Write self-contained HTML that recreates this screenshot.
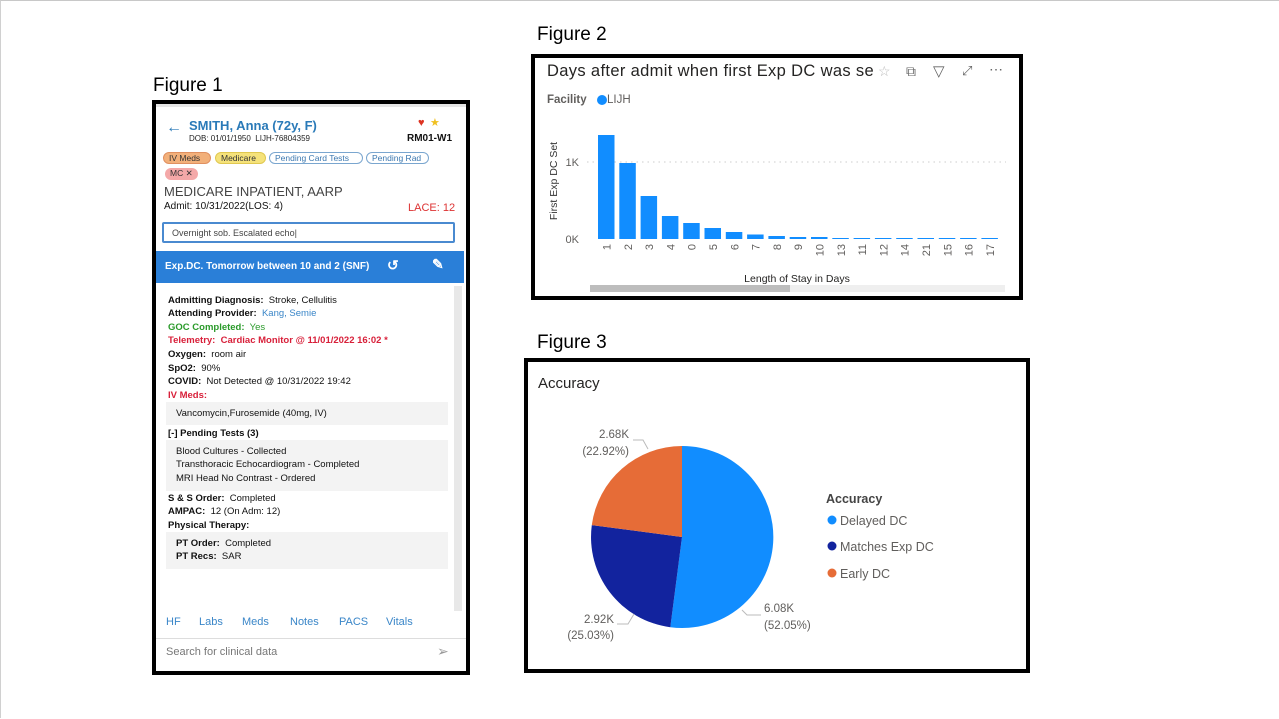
<!DOCTYPE html>
<html><head><meta charset="utf-8"><style>
*{margin:0;padding:0;box-sizing:border-box}
body{width:1279px;height:718px;background:#fff;position:relative;overflow:hidden;font-family:"Liberation Sans",sans-serif;border-top:1px solid #c8c8c8;border-left:1px solid #d0d0d0}
.a{position:absolute;white-space:nowrap}
.fig{font-size:19px;color:#000}
.ph{font-size:9.5px;color:#111;line-height:12px}
.b{font-weight:bold}
.pill{position:absolute;height:12px;border-radius:6px;font-size:8.5px;line-height:11px;padding:0 5px;color:#333}
.out{border:1px solid #7aa6cf;color:#3c78b0;background:#fff}
.gbox{position:absolute;background:#f3f3f3;left:165px;width:282px}
.tab{font-size:11px;color:#3a86c8}
</style></head><body>
<div class="a fig" style="left:152px;top:74px">Figure 1</div>
<div class="a fig" style="left:536px;top:23px">Figure 2</div>
<div class="a fig" style="left:536px;top:331px">Figure 3</div>

<!-- Figure 1 phone -->
<div class="a" style="left:151px;top:99px;width:318px;height:575px;border:4px solid #000;background:#fff"></div>
<div class="a" style="left:155px;top:103px;width:310px;height:3px;background:#e6e6e6"></div>
<div class="a" style="left:165px;top:118px;font-size:16px;color:#2a7ab8">←</div>
<div class="a b" style="left:188px;top:117px;font-size:13px;color:#2a7ab8">SMITH, Anna (72y, F)</div>
<div class="a" style="left:188px;top:133px;font-size:8px;color:#222">DOB: 01/01/1950&nbsp; LIJH-76804359</div>
<div class="a" style="left:417px;top:116px;font-size:11px;color:#d32">&#9829;</div>
<div class="a" style="left:429px;top:115px;font-size:11px;color:#f0c020">★</div>
<div class="a b" style="left:406px;top:132px;font-size:10px;color:#111">RM01-W1</div>
<div class="pill" style="left:162px;top:151px;width:48px;background:#f2b07a;border:1px solid #e09060">IV Meds</div>
<div class="pill" style="left:214px;top:151px;width:51px;background:#f5e27a;border:1px solid #e0c850">Medicare</div>
<div class="pill out" style="left:268px;top:151px;width:94px">Pending Card Tests</div>
<div class="pill out" style="left:365px;top:151px;width:63px">Pending Rad</div>
<div class="pill" style="left:164px;top:167px;width:33px;background:#f4a8a8">MC ✕</div>
<div class="a" style="left:163px;top:183px;font-size:13px;color:#444">MEDICARE INPATIENT, AARP</div>
<div class="a" style="left:163px;top:200px;font-size:10px;color:#111">Admit: 10/31/2022(LOS: 4)</div>
<div class="a" style="left:407px;top:201px;font-size:11px;color:#d33">LACE: 12</div>
<div class="a" style="left:161px;top:221px;width:293px;height:21px;border:2px solid #4a8ad0;border-radius:2px;font-size:9px;color:#444;padding:4px 8px">Overnight sob. Escalated echo|</div>
<div class="a" style="left:155px;top:250px;width:308px;height:32px;background:#2a7fd8"></div>
<div class="a b" style="left:164px;top:260px;font-size:10px;color:#fff">Exp.DC. Tomorrow between 10 and 2 (SNF)</div>
<div class="a b" style="left:386px;top:256px;font-size:14px;color:#fff">↺</div>
<div class="a b" style="left:431px;top:255px;font-size:14px;color:#fff">✎</div>
<div class="a" style="left:453px;top:285px;width:8px;height:325px;background:#e8e8e8"></div>

<div class="a ph" style="left:167px;top:294px"><b>Admitting Diagnosis:</b>&nbsp; Stroke, Cellulitis</div>
<div class="a ph" style="left:167px;top:307px"><b>Attending Provider:</b>&nbsp; <span style="color:#3a86c8">Kang, Semie</span></div>
<div class="a ph" style="left:167px;top:321px;color:#2a9a2a"><b>GOC Completed:</b>&nbsp; Yes</div>
<div class="a ph b" style="left:167px;top:334px;color:#d8203a">Telemetry:&nbsp; Cardiac Monitor @ 11/01/2022 16:02 *</div>
<div class="a ph" style="left:167px;top:348px"><b>Oxygen:</b>&nbsp; room air</div>
<div class="a ph" style="left:167px;top:362px"><b>SpO2:</b>&nbsp; 90%</div>
<div class="a ph" style="left:167px;top:375px"><b>COVID:</b>&nbsp; Not Detected @ 10/31/2022 19:42</div>
<div class="a ph b" style="left:167px;top:389px;color:#d8203a">IV Meds:</div>
<div class="gbox" style="top:401px;height:23px"></div>
<div class="a ph" style="left:175px;top:407px">Vancomycin,Furosemide (40mg, IV)</div>
<div class="a ph b" style="left:167px;top:427px">[-] Pending Tests (3)</div>
<div class="gbox" style="top:439px;height:51px"></div>
<div class="a ph" style="left:175px;top:445px">Blood Cultures - Collected</div>
<div class="a ph" style="left:175px;top:458px">Transthoracic Echocardiogram - Completed</div>
<div class="a ph" style="left:175px;top:472px">MRI Head No Contrast - Ordered</div>
<div class="a ph" style="left:167px;top:492px"><b>S &amp; S Order:</b>&nbsp; Completed</div>
<div class="a ph" style="left:167px;top:505px"><b>AMPAC:</b>&nbsp; 12 (On Adm: 12)</div>
<div class="a ph b" style="left:167px;top:519px">Physical Therapy:</div>
<div class="gbox" style="top:531px;height:37px"></div>
<div class="a ph" style="left:175px;top:537px"><b>PT Order:</b>&nbsp; Completed</div>
<div class="a ph" style="left:175px;top:550px"><b>PT Recs:</b>&nbsp; SAR</div>
<div class="a tab" style="left:165px;top:615px">HF</div>
<div class="a tab" style="left:198px;top:615px">Labs</div>
<div class="a tab" style="left:241px;top:615px">Meds</div>
<div class="a tab" style="left:289px;top:615px">Notes</div>
<div class="a tab" style="left:338px;top:615px">PACS</div>
<div class="a tab" style="left:385px;top:615px">Vitals</div>
<div class="a" style="left:155px;top:637px;width:310px;height:1px;background:#ddd"></div>
<div class="a" style="left:165px;top:645px;font-size:11px;color:#777">Search for clinical data</div>
<div class="a" style="left:436px;top:642px;font-size:14px;color:#999">➢</div>

<!-- Figure 2 -->
<div class="a" style="left:530px;top:53px;width:492px;height:246px;border:4px solid #000"></div>
<div class="a" style="left:546px;top:61px;font-size:16.5px;letter-spacing:0.35px;color:#252423">Days after admit when first Exp DC was se</div>
<div class="a" style="left:877px;top:62px;font-size:14px;color:#bbb">☆</div>
<div class="a" style="left:905px;top:62px;font-size:14px;color:#666">⧉</div>
<div class="a" style="left:932px;top:61px;font-size:15px;color:#666">▽</div>
<div class="a" style="left:961px;top:62px;font-size:13px;color:#666">⤢</div>
<div class="a" style="left:988px;top:60px;font-size:14px;color:#666">⋯</div>
<div class="a b" style="left:546px;top:93px;font-size:11.5px;color:#605e5c">Facility</div>
<div class="a" style="left:596px;top:94px;width:10px;height:10px;border-radius:50%;background:#118dff"></div>
<div class="a" style="left:606px;top:93px;font-size:11.5px;color:#605e5c">LIJH</div>
<svg class="a" style="left:0;top:0" width="1279" height="718">
<text x="556" y="180" transform="rotate(-90 556 180)" text-anchor="middle" font-family="Liberation Sans" font-size="10.5" fill="#333">First Exp DC Set</text>
<text x="578" y="165" text-anchor="end" font-family="Liberation Sans" font-size="11" fill="#605e5c">1K</text>
<text x="578" y="242" text-anchor="end" font-family="Liberation Sans" font-size="11" fill="#605e5c">0K</text>
<line x1="586" y1="161" x2="1005" y2="161" stroke="#ccc" stroke-dasharray="1.5,4"/>
<g fill="#118dff">
<rect x="597" y="134" width="16.5" height="104"/>
<rect x="618.3" y="162" width="16.5" height="76"/>
<rect x="639.6" y="195" width="16.5" height="43"/>
<rect x="660.9" y="215" width="16.5" height="23"/>
<rect x="682.2" y="222" width="16.5" height="16"/>
<rect x="703.5" y="227" width="16.5" height="11"/>
<rect x="724.8" y="231" width="16.5" height="7"/>
<rect x="746.1" y="233.5" width="16.5" height="4.5"/>
<rect x="767.4" y="235" width="16.5" height="3"/>
<rect x="788.7" y="236" width="16.5" height="2"/>
<rect x="810" y="236" width="16.5" height="2"/>
<rect x="831.3" y="237" width="16.5" height="1"/>
<rect x="852.6" y="237" width="16.5" height="1"/>
<rect x="873.9" y="237" width="16.5" height="1"/>
<rect x="895.2" y="237" width="16.5" height="1"/>
<rect x="916.5" y="237" width="16.5" height="1"/>
<rect x="937.8" y="237" width="16.5" height="1"/>
<rect x="959.1" y="237" width="16.5" height="1"/>
<rect x="980.4" y="237" width="16.5" height="1"/>
</g>
<g font-family="Liberation Sans" font-size="11" fill="#605e5c" text-anchor="end">
<text transform="translate(609.5 243) rotate(-90)">1</text>
<text transform="translate(630.8 243) rotate(-90)">2</text>
<text transform="translate(652.1 243) rotate(-90)">3</text>
<text transform="translate(673.4 243) rotate(-90)">4</text>
<text transform="translate(694.7 243) rotate(-90)">0</text>
<text transform="translate(716 243) rotate(-90)">5</text>
<text transform="translate(737.3 243) rotate(-90)">6</text>
<text transform="translate(758.6 243) rotate(-90)">7</text>
<text transform="translate(779.9 243) rotate(-90)">8</text>
<text transform="translate(801.2 243) rotate(-90)">9</text>
<text transform="translate(822.5 243) rotate(-90)">10</text>
<text transform="translate(843.8 243) rotate(-90)">13</text>
<text transform="translate(865.1 243) rotate(-90)">11</text>
<text transform="translate(886.4 243) rotate(-90)">12</text>
<text transform="translate(907.7 243) rotate(-90)">14</text>
<text transform="translate(929 243) rotate(-90)">21</text>
<text transform="translate(950.3 243) rotate(-90)">15</text>
<text transform="translate(971.6 243) rotate(-90)">16</text>
<text transform="translate(992.9 243) rotate(-90)">17</text>
</g>
<text x="796" y="281" text-anchor="middle" font-family="Liberation Sans" font-size="10.5" fill="#252423">Length of Stay in Days</text>
<rect x="589" y="284" width="415" height="7" fill="#efefef"/>
<rect x="589" y="284" width="200" height="7" fill="#bdbdbd"/>

<!-- Figure 3 -->
<rect x="525" y="359" width="502" height="311" fill="none" stroke="#000" stroke-width="4"/>
<text x="537" y="387" font-family="Liberation Sans" font-size="15" fill="#252423">Accuracy</text>
<path d="M681 536 L681 445 A91 91 0 1 1 669.3 626.2 Z" fill="#118dff"/>
<path d="M681 536 L669.3 626.2 A91 91 0 0 1 590.8 524.1 Z" fill="#12239e"/>
<path d="M681 536 L590.8 524.1 A91 91 0 0 1 681 445 Z" fill="#e66c37"/>
<g stroke="#bbb" fill="none" stroke-width="1">
<polyline points="632,439 642,439 647,448"/>
<polyline points="616,623 627,623 633,613"/>
<polyline points="741,609 746,614 760,614"/>
</g>
<g font-family="Liberation Sans" font-size="11.5" fill="#605e5c">
<text x="628" y="437" text-anchor="end">2.68K</text>
<text x="628" y="454" text-anchor="end">(22.92%)</text>
<text x="613" y="622" text-anchor="end">2.92K</text>
<text x="613" y="638" text-anchor="end">(25.03%)</text>
<text x="763" y="611">6.08K</text>
<text x="763" y="628">(52.05%)</text>
</g>
<text x="825" y="502" font-family="Liberation Sans" font-size="12.5" font-weight="bold" fill="#444">Accuracy</text>
<circle cx="831" cy="519" r="4.5" fill="#118dff"/>
<circle cx="831" cy="545" r="4.5" fill="#12239e"/>
<circle cx="831" cy="572" r="4.5" fill="#e66c37"/>
<g font-family="Liberation Sans" font-size="12.5" fill="#605e5c">
<text x="839" y="524">Delayed DC</text>
<text x="839" y="550">Matches Exp DC</text>
<text x="839" y="577">Early DC</text>
</g>
</svg>
</body></html>
